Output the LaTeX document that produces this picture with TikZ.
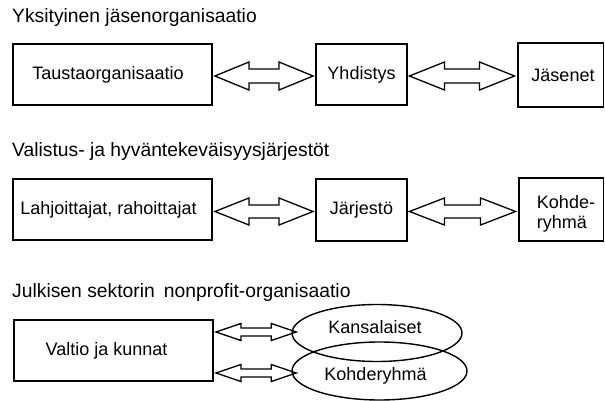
\documentclass[tikz,border=0pt]{standalone}
\usepackage{fontspec}
\setmainfont{Liberation Sans}
\usetikzlibrary{calc,shapes.geometric}
\pgfdeclarelayer{bg}
\pgfsetlayers{bg,main}
\tikzset{
  box/.style={draw, line width=1.9pt, inner sep=0pt, font=\fontsize{18}{20}\selectfont},
  oval/.style={draw, ellipse, line width=1.4pt, inner sep=0pt},
  lbl/.style={inner sep=0pt, font=\fontsize{18}{20}\selectfont},
  title/.style={anchor=base west, inner sep=0pt, font=\fontsize{19.3}{22}\selectfont},
  dblarrow/.style={draw, line width=1.3pt, line join=miter, fill=white}
}
\newcommand{\dblarr}[5]{%
  \path[dblarrow] let \p1=#1, \p2=#2 in
    (\x1,\y1) -- (\x1+#3,\y1+#4) -- (\x1+#3,\y1+#5) -- (\x2-#3,\y1+#5) --
    (\x2-#3,\y1+#4) -- (\x2,\y1) -- (\x2-#3,\y1-#4) -- (\x2-#3,\y1-#5) --
    (\x1+#3,\y1-#5) -- (\x1+#3,\y1-#4) -- cycle;}
\begin{document}
\begin{tikzpicture}[x=1pt,y=-1pt]
\useasboundingbox (0,0) rectangle (605,401);
\clip (0,0) rectangle (605,401);

% Row 1
\node[title] (t1) at (12,23) {Yksityinen jäsenorganisaatio};
\node[box, minimum width=199pt, minimum height=61pt] (A1) at (112.5,74.5) {Taustaorganisaatio\hspace*{9pt}};
\node[box, minimum width=91pt, minimum height=61pt] (B1) at (361.5,74.5) {Yhdistys};
\node[box, minimum width=85.5pt, minimum height=64pt] (C1) at (560.75,75) {\hspace*{4.5pt}Jäsenet};
\dblarr{($(A1.east)+(2,1.5)$)}{($(B1.west)+(-2,1.5)$)}{34pt}{14pt}{7pt}
\dblarr{($(B1.east)+(1.5,1.5)$)}{($(C1.west)+(-2.5,1.5)$)}{35pt}{14pt}{7pt}

% Row 2
\node[title] (t2) at (12,157) {Valistus- ja hyväntekeväisyysjärjestöt};
\node[box, minimum width=199pt, minimum height=61pt] (A2) at (112.5,209.5) {Lahjoittajat, rahoittajat\hspace*{8pt}};
\node[box, minimum width=91pt, minimum height=62pt] (B2) at (361.5,210) {Järjestö};
\node[box, minimum width=84.5pt, minimum height=63pt, align=left] (C2) at (561.25,209.5) {\hspace*{9.5pt}\rule{0pt}{22pt}Kohde-\\\hspace*{9.5pt}ryhmä};
\dblarr{($(A2.east)+(2,2)$)}{($(B2.west)+(-2,1.5)$)}{34pt}{13.5pt}{6.5pt}
\dblarr{($(B2.east)+(1.5,1.5)$)}{($(C2.west)+(-2.5,1.5)$)}{35pt}{13.5pt}{6.5pt}

% Row 3
\node[title] (t3) at (12,297) {Julkisen sektorin\hspace{9pt}nonprofit-organisaatio};
\node[box, minimum width=199pt, minimum height=61pt] (A3) at (113.5,350.5) {Valtio ja kunnat\hspace*{14pt}};
\node[oval, minimum width=170pt, minimum height=57pt] (K) at (377,333) {};
\node[oval, minimum width=175pt, minimum height=58pt] (R) at (379.5,371) {};
\node[lbl] (Kt) at (375,327) {Kansalaiset};
\node[lbl] (Rt) at (375.5,376) {Kohderyhmä};
\begin{pgfonlayer}{bg}
\dblarr{($(A3.east|-K.west)+(2,-1)$)}{($(K.west)+(5,-1)$)}{25pt}{8.5pt}{4pt}
\dblarr{($(A3.east|-R.west)+(2,2)$)}{($(R.west)+(5,2)$)}{25pt}{8.5pt}{4pt}
\end{pgfonlayer}
\end{tikzpicture}
\end{document}
